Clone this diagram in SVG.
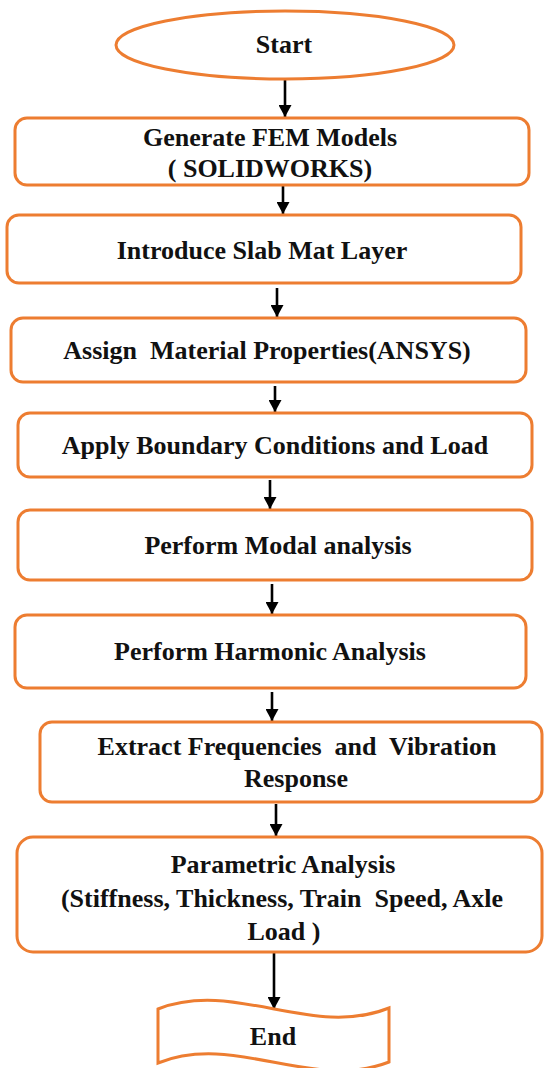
<svg xmlns="http://www.w3.org/2000/svg" width="544" height="1068" viewBox="0 0 544 1068">
  <style>
    .box { fill: #ffffff; stroke: #ED7D31; stroke-width: 3; }
    .lbl { font-family: "Liberation Serif", "Times New Roman", serif; font-weight: bold; font-size: 26px; fill: #111111; text-anchor: middle; }
    .flow { stroke: #000000; stroke-width: 2.6; fill: none; marker-end: url(#head); }
  </style>
  <defs>
    <marker id="head" markerUnits="userSpaceOnUse" markerWidth="13" markerHeight="13" refX="12" refY="6.5" orient="auto">
      <path d="M0,0 L12,6.5 L0,13 z" fill="#000000"/>
    </marker>
  </defs>
  <rect width="544" height="1068" fill="#ffffff"/>

  <!-- connectors -->
  <g id="connectors">
    <line class="flow" x1="285" y1="80" x2="285" y2="117"/>
    <line class="flow" x1="283" y1="185" x2="283" y2="214"/>
    <line class="flow" x1="277" y1="288" x2="277" y2="317"/>
    <line class="flow" x1="275" y1="386" x2="275" y2="412"/>
    <line class="flow" x1="270" y1="480" x2="270" y2="509"/>
    <line class="flow" x1="272" y1="584" x2="272" y2="614"/>
    <line class="flow" x1="272" y1="692" x2="272" y2="721"/>
    <line class="flow" x1="276" y1="804" x2="276" y2="836"/>
    <line class="flow" x1="274" y1="953" x2="274" y2="1009"/>
  </g>

  <g id="start">
    <ellipse class="box" cx="285" cy="45" rx="169" ry="34"/>
    <text class="lbl" x="284" y="53">Start</text>
  </g>

  <g id="generate-fem">
    <rect class="box" x="15" y="118" width="514" height="67" rx="12"/>
    <text class="lbl" x="270" y="146">Generate FEM Models</text>
    <text class="lbl" x="270" y="177">( SOLIDWORKS)</text>
  </g>

  <g id="slab-mat">
    <rect class="box" x="7" y="215" width="514" height="68" rx="12"/>
    <text class="lbl" x="262" y="259">Introduce Slab Mat Layer</text>
  </g>

  <g id="material">
    <rect class="box" x="11" y="318" width="515" height="64" rx="12"/>
    <text class="lbl" x="267" y="359" xml:space="preserve">Assign  Material Properties(ANSYS)</text>
  </g>

  <g id="boundary">
    <rect class="box" x="18" y="413" width="514" height="64" rx="12"/>
    <text class="lbl" x="275" y="454">Apply Boundary Conditions and Load</text>
  </g>

  <g id="modal">
    <rect class="box" x="18" y="510" width="514" height="70" rx="12"/>
    <text class="lbl" x="278" y="554">Perform Modal analysis</text>
  </g>

  <g id="harmonic">
    <rect class="box" x="15" y="615" width="511" height="73" rx="12"/>
    <text class="lbl" x="270" y="660">Perform Harmonic Analysis</text>
  </g>

  <g id="extract">
    <rect class="box" x="40" y="722" width="502" height="80" rx="12"/>
    <text class="lbl" x="297" y="755" xml:space="preserve">Extract Frequencies  and  Vibration</text>
    <text class="lbl" x="296" y="787">Response</text>
  </g>

  <g id="parametric">
    <rect class="box" x="17" y="837" width="525" height="115" rx="16"/>
    <text class="lbl" x="283" y="873">Parametric Analysis</text>
    <text class="lbl" x="282" y="907" xml:space="preserve">(Stiffness, Thickness, Train  Speed, Axle</text>
    <text class="lbl" x="284" y="940">Load )</text>
  </g>

  <g id="end">
    <path class="box" d="M158,1009 C235,979 312,1039 389,1008 L389,1062 C312,1092 235,1032 158,1063 Z"/>
    <text class="lbl" x="273" y="1045">End</text>
  </g>
</svg>
